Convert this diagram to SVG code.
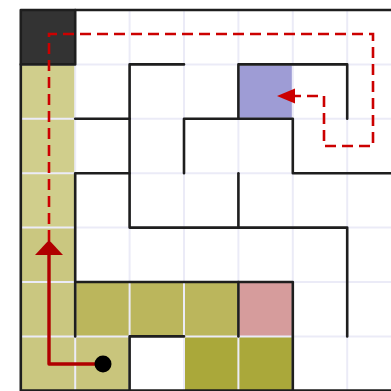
<svg xmlns="http://www.w3.org/2000/svg" width="391" height="391" viewBox="0 0 391 391">
<defs>
<style>
.grid{stroke:#ebebf7;stroke-width:2;fill:none}
.wall{stroke:#1e1e1e;stroke-width:2.6;fill:none;stroke-linecap:round;stroke-linejoin:round}
.dash{stroke:#cc0000;stroke-width:2.6;fill:none;stroke-dasharray:11 6}
.solid{stroke:#b00000;stroke-width:3.4;fill:none;stroke-linejoin:round}
</style>
</defs>
<rect x="0" y="0" width="391" height="391" fill="#ffffff"/>
<g id="cells">
<rect x="20.8" y="10" width="54.4" height="54.4" fill="#333333"/>
<rect x="20.8" y="64.4" width="54.4" height="163.2" fill="#d0ce8c"/>
<rect x="20.8" y="227.6" width="54.4" height="163.2" fill="#cac780"/>
<rect x="75.2" y="336.4" width="54.4" height="54.4" fill="#c9c57c"/>
<rect x="75.2" y="282" width="163.2" height="54.4" fill="#bbb65c"/>
<rect x="184" y="336.4" width="108.8" height="54.4" fill="#aaa83a"/>
<rect x="238.4" y="282" width="54.4" height="54.4" fill="#d69c9c"/>
<rect x="238.4" y="64.4" width="54.4" height="54.4" fill="#9e9cd5"/>
</g>
<g id="grid" class="grid">
<path d="M75.2 64.4V391M129.6 10V391M184 10V391M238.4 10V391M292.8 10V391M347.2 10V391"/>
<path d="M20.8 64.4H391M20.8 118.8H391M20.8 173.2H391M20.8 227.6H391M20.8 282H391M20.8 336.4H391"/>
</g>
<g id="walls" class="wall">
<path d="M391 10H20.8V390.5H391"/>
<path d="M20.8 64.4H75.2V10"/>
<path d="M75.2 118.8H129.6"/>
<path d="M184 64.4H129.6V227.6H347.2V336.4"/>
<path d="M129.6 173.2H75.2V336.4"/>
<path d="M184 173.2V118.8H292.8V173.2H391"/>
<path d="M238.4 118.8V64.4H347.2V118.8"/>
<path d="M238.4 173.2V227.6"/>
<path d="M75.2 282H292.8V391"/>
<path d="M238.4 282V336.4"/>
<path d="M129.6 391V336.4H184"/>
</g>
<g id="connectors">
<path class="dash" d="M49 241V34H373V146H324V96H292"/>
<polygon points="277,96 295,88.5 295,103.5" fill="#cc0000"/>
<path class="solid" d="M103 364H49V252"/>
<polygon points="49,240 35,255 63,255" fill="#b00000"/>
<circle cx="103" cy="364" r="8.5" fill="#000000"/>
</g>
</svg>
